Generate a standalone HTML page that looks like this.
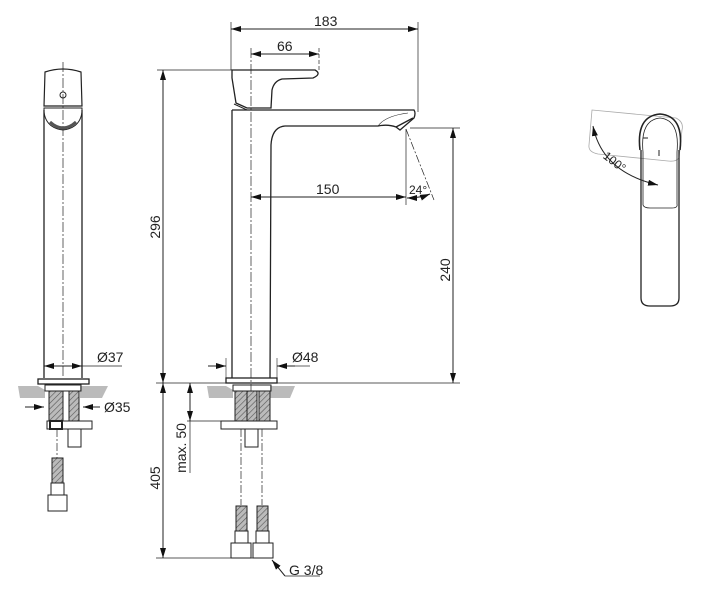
<!DOCTYPE html>
<html><head><meta charset="utf-8"><style>html,body{margin:0;padding:0;background:#fff}svg{display:block}text{font-family:"Liberation Sans",sans-serif;font-size:14px;fill:#222}</style></head><body>
<svg width="705" height="600" viewBox="0 0 705 600" xmlns="http://www.w3.org/2000/svg">
<defs>
<marker id="a" viewBox="0 0 10 6" refX="10" refY="3" markerWidth="10" markerHeight="6" orient="auto-start-reverse" markerUnits="userSpaceOnUse"><path d="M0,0L10,3L0,6z" fill="#111"/></marker>
<pattern id="h" width="4" height="4" patternUnits="userSpaceOnUse" patternTransform="rotate(45)"><rect width="4" height="4" fill="#bbb"/><line x1="0" y1="0" x2="0" y2="4" stroke="#555" stroke-width="1.2"/></pattern>
</defs>
<g fill="none" stroke="#222" stroke-width="1">
<!-- Left view -->
<line x1="63" y1="62" x2="63" y2="376" stroke-dasharray="10,2,2,2" stroke-width="0.7"/>
<path d="M45,72 Q63,66 81,72 L82,106 L44,106 Z" stroke-width="1.2"/>
<circle cx="63" cy="95" r="3"/>
<path d="M44,108 L82,108 L82,112 Q80,128 63,130 Q46,128 44,112 Z"/>
<path d="M50,122 Q63,134 76,122" stroke-width="3" stroke="#555"/>
<line x1="44" y1="110" x2="44" y2="378" stroke-width="1.3"/>
<line x1="82" y1="110" x2="82" y2="378" stroke-width="1.3"/>
<rect x="38" y="379" width="51" height="5" stroke-width="1.3"/>
<line x1="44" y1="366" x2="82" y2="366" marker-start="url(#a)" marker-end="url(#a)"/>
<line x1="82" y1="366" x2="122" y2="366" stroke-width="0.7"/>
<path d="M18,386 L38,386 L45,390 L45,398 L20,398 Z" fill="#bbb" stroke="none"/>
<path d="M80,386 L108,386 L102,398 L80,398 Z" fill="#bbb" stroke="none"/>
<rect x="45" y="385" width="36" height="6"/>
<rect x="49" y="391" width="14" height="30" fill="url(#h)"/>
<rect x="69" y="391" width="10" height="30" fill="url(#h)"/>
<rect x="47" y="421" width="45" height="8"/>
<rect x="50" y="421" width="12" height="8" stroke-width="2"/>
<rect x="68" y="429" width="13" height="18"/>
<line x1="25" y1="407" x2="44" y2="407" marker-end="url(#a)"/>
<line x1="100" y1="407" x2="83" y2="407" marker-end="url(#a)"/>
<line x1="57" y1="429" x2="57" y2="458" stroke-dasharray="8,2,2,2" stroke-width="0.7"/>
<rect x="52" y="458" width="11" height="25" fill="url(#h)"/>
<rect x="51" y="483" width="13" height="12"/>
<rect x="48" y="495" width="19" height="16"/>
<!-- Main view -->
<line x1="251" y1="48" x2="251" y2="395" stroke-dasharray="10,2,2,2" stroke-width="0.7"/>
<path d="M232,70 L315,70 Q322,74 313,78 L282,79 Q274,81 272,90 L271,108 L247,108 L236,103 L232,78 Z" stroke-width="1.3"/>
<path d="M234,104 L247,110 L270,110" stroke-width="1"/>
<path d="M232,110 L232,378 M232,110 L414,110 Q416,113 414,118 L400,130 L396,127 Q388,124 378,126 L285,126 Q272,127 271,145 L270,378" stroke-width="1.3"/>
<path d="M378,126 Q385,116 408,113" stroke-width="0.6"/>
<line x1="396" y1="127" x2="413" y2="118" stroke-width="1.3"/>
<rect x="226" y="378" width="51" height="5" stroke-width="1.3"/>
<line x1="231" y1="22" x2="231" y2="70" stroke-width="0.7"/>
<line x1="418" y1="22" x2="418" y2="112" stroke-width="0.7"/>
<line x1="231" y1="29" x2="418" y2="29" marker-start="url(#a)" marker-end="url(#a)"/>
<line x1="319" y1="48" x2="319" y2="70" stroke-dasharray="4,2" stroke-width="0.7"/>
<line x1="251" y1="54" x2="319" y2="54" marker-start="url(#a)" marker-end="url(#a)"/>
<line x1="157" y1="70" x2="232" y2="70" stroke-width="0.7"/>
<line x1="163" y1="70" x2="163" y2="383" marker-start="url(#a)" marker-end="url(#a)"/>
<line x1="156" y1="383" x2="460" y2="383" stroke-width="0.7"/>
<line x1="251" y1="197" x2="406" y2="197" marker-start="url(#a)" marker-end="url(#a)"/>
<line x1="406" y1="129" x2="406" y2="205" stroke-width="0.7"/>
<line x1="406" y1="129" x2="434" y2="200" stroke-dasharray="8,2,2,2" stroke-width="0.7"/>
<path d="M407,198 Q420,198 430,194" marker-start="url(#a)" marker-end="url(#a)"/>
<line x1="410" y1="128" x2="460" y2="128" stroke-width="0.7"/>
<line x1="453" y1="128" x2="453" y2="383" marker-start="url(#a)" marker-end="url(#a)"/>
<line x1="208" y1="366" x2="226" y2="366" marker-end="url(#a)"/>
<line x1="226" y1="358" x2="226" y2="378" stroke-width="0.6"/>
<line x1="277" y1="358" x2="277" y2="378" stroke-width="0.6"/>
<line x1="295" y1="366" x2="277" y2="366" marker-end="url(#a)"/>
<line x1="295" y1="366" x2="310" y2="366" stroke-width="0.7"/>
<path d="M207,386 L226,386 L233,390 L233,398 L209,398 Z" fill="#bbb" stroke="none"/>
<path d="M270,386 L295,386 L290,398 L270,398 Z" fill="#bbb" stroke="none"/>
<rect x="233" y="385" width="38" height="6"/>
<rect x="235" y="391" width="12" height="30" fill="url(#h)"/>
<rect x="247" y="391" width="10" height="30" fill="url(#h)"/>
<rect x="259" y="391" width="11" height="30" fill="url(#h)"/>
<rect x="221" y="421" width="56" height="8"/>
<rect x="245" y="429" width="13" height="18"/>
<line x1="241" y1="429" x2="241" y2="505" stroke-dasharray="8,2,2,2" stroke-width="0.7"/>
<line x1="262" y1="429" x2="262" y2="505" stroke-dasharray="8,2,2,2" stroke-width="0.7"/>
<rect x="236" y="506" width="11" height="25" fill="url(#h)"/>
<rect x="235" y="531" width="13" height="12"/>
<rect x="231" y="543" width="20" height="15"/>
<rect x="257" y="506" width="11" height="25" fill="url(#h)"/>
<rect x="256" y="531" width="13" height="12"/>
<rect x="253" y="543" width="20" height="15"/>
<line x1="187" y1="421" x2="221" y2="421" stroke-width="0.7"/>
<line x1="190" y1="383" x2="190" y2="421" marker-start="url(#a)" marker-end="url(#a)"/>
<line x1="190" y1="421" x2="190" y2="473" stroke-width="0.7"/>
<line x1="163" y1="383" x2="163" y2="558" marker-start="url(#a)" marker-end="url(#a)"/>
<line x1="156" y1="558" x2="272" y2="558" stroke-width="0.7"/>
<line x1="285" y1="576" x2="320" y2="576" stroke-width="0.7"/>
<line x1="285" y1="576" x2="272" y2="560" marker-end="url(#a)"/>
<!-- Top view -->
<path d="M592,110 L676,118 Q684,122 682,130 L679,158 Q676,162 668,161 L598,154 Q588,152 589,145 Z" stroke="#aaa" stroke-width="0.8" fill="#fff"/>
<path d="M640,150 Q636,116 660,114 Q684,116 680,150" stroke-width="1.6"/>
<path d="M643,152 Q640,120 660,118 Q680,120 677,152" stroke-width="0.8"/>
<path d="M641,150 L641,298 Q641,306 650,306 L670,306 Q679,306 679,298 L679,150" stroke-width="1.3"/>
<path d="M643,152 L643,205 Q644,208 650,208 L672,208 Q678,208 677,204 L677,152" stroke-width="0.8"/>
<line x1="643" y1="138" x2="648" y2="138"/><line x1="659" y1="150" x2="659" y2="156"/>
<path d="M593,126 Q602,172 658,185" marker-start="url(#a)" marker-end="url(#a)"/>
</g>
<text x="314" y="26">183</text>
<text x="277" y="51">66</text>
<text x="316" y="194">150</text>
<text x="409" y="194" style="font-size:12px">24°</text>
<text x="97" y="362">Ø37</text>
<text x="292" y="362">Ø48</text>
<text x="104" y="412">Ø35</text>
<text x="289" y="575">G 3/8</text>
<text transform="translate(160,227) rotate(-90)" text-anchor="middle">296</text>
<text transform="translate(450,270) rotate(-90)" text-anchor="middle">240</text>
<text transform="translate(160,478) rotate(-90)" text-anchor="middle">405</text>
<text transform="translate(186,448) rotate(-90)" text-anchor="middle">max. 50</text>
<text transform="translate(612,165) rotate(38)" text-anchor="middle" style="font-size:12px">100°</text>
</svg>
</body></html>
